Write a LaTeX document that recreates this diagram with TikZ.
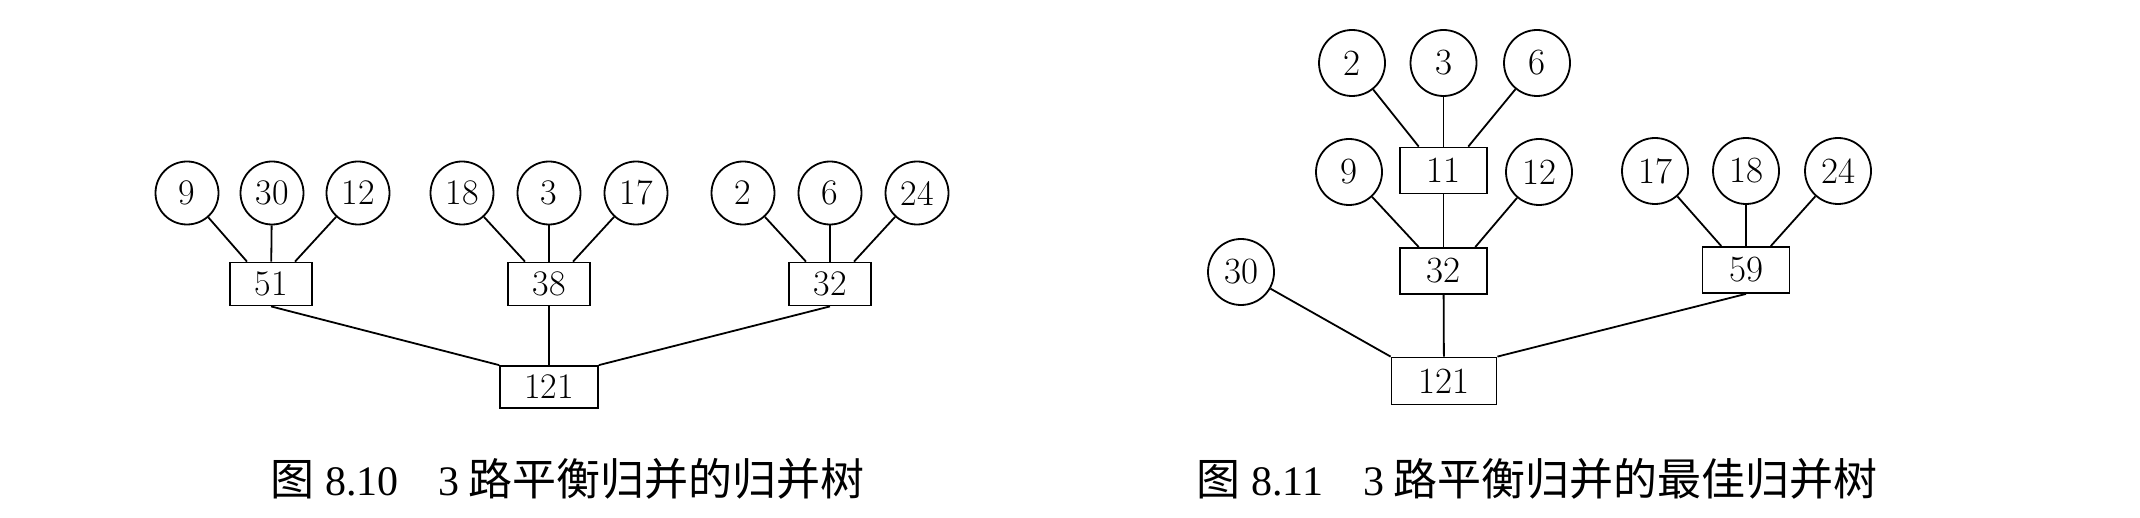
\documentclass[tikz,border=0pt]{standalone}
\usepackage{fontspec}
\newfontfamily\cjk{Noto Sans CJK SC}
\newfontfamily\capserif{Liberation Serif}
\newcommand\capnum[1]{{\capserif\fontsize{42}{42}\selectfont #1}}
\begin{document}
\begin{tikzpicture}[x=1pt,y=-1pt,
  leaf/.style={draw, circle, line width=1.8pt, inner sep=0pt, minimum size=63pt, font=\fontsize{36}{36}\selectfont},
  leafb/.style={leaf, minimum size=66pt, font=\fontsize{37}{37}\selectfont},
  sumbox/.style={draw, rectangle, line width=1.8pt, inner sep=0pt, minimum width=82pt, minimum height=43pt, font=\fontsize{36}{36}\selectfont},
  sumboxb/.style={sumbox, minimum width=87pt, minimum height=46pt, font=\fontsize{37}{37}\selectfont},
  edge/.style={line width=1.8pt},
  caption/.style={anchor=base west, inner sep=0pt, font=\cjk\fontsize{44}{44}\selectfont}]
\useasboundingbox (0,0) rectangle (2140,518);

% ---------- Figure 8.10 ----------
\node[leaf] (a9)  at (187,193) {9};
\node[leaf] (a30) at (272,193) {30};
\node[leaf] (a12) at (358,193) {12};
\node[leaf] (a18) at (462,193) {18};
\node[leaf] (a3)  at (549,193) {3};
\node[leaf] (a17) at (636,193) {17};
\node[leaf] (a2)  at (743,193) {2};
\node[leaf] (a6)  at (830,193) {6};
\node[leaf] (a24) at (917,193) {24};
\node[sumbox] (a51) at (271,284) {51};
\node[sumbox] (a38) at (549,284) {38};
\node[sumbox] (a32) at (830,284) {32};
\node[sumbox, minimum width=98pt, minimum height=42pt] (a121) at (549,387) {121};

\draw[edge] (a9) -- (a51.137);
\draw[edge] (a30) -- (a51);
\draw[edge] (a12) -- (a51.43);
\draw[edge] (a18) -- (a38.137);
\draw[edge] (a3) -- (a38);
\draw[edge] (a17) -- (a38.43);
\draw[edge] (a2) -- (a32.137);
\draw[edge] (a6) -- (a32);
\draw[edge] (a24) -- (a32.43);
\draw[edge] (a51.south) -- (a121.north west);
\draw[edge] (a38) -- (a121);
\draw[edge] (a32.south) -- (a121.north east);

% ---------- Figure 8.11 ----------
\node[leafb] (b2)  at (1352,63) {2};
\node[leafb] (b3)  at (1443.5,63) {3};
\node[leafb] (b6)  at (1537,63) {6};
\node[sumboxb] (b11) at (1443.5,170.5) {11};
\node[leafb] (b9)  at (1349,172) {9};
\node[leafb] (b12) at (1539,172) {12};
\node[sumboxb] (b32) at (1443.5,271) {32};
\node[leafb] (b30) at (1241,272) {30};
\node[leafb] (b17) at (1655,171) {17};
\node[leafb] (b18) at (1746,171) {18};
\node[leafb] (b24) at (1838,171) {24};
\node[sumboxb] (b59) at (1746,270) {59};
\node[sumboxb, minimum width=105pt, minimum height=47pt] (b121) at (1444,381) {121};

\draw[edge] (b2) -- (b11.136);
\draw[edge] (b3) -- (b11);
\draw[edge] (b6) -- (b11.44);
\draw[edge] (b9) -- (b32.136);
\draw[edge] (b11) -- (b32);
\draw[edge] (b12) -- (b32.37);
\draw[edge] (b32) -- (b121);
\draw[edge] (b30) -- (b121.north west);
\draw[edge] (b121.north east) -- (b59.south);
\draw[edge] (b17) -- (b59.136);
\draw[edge] (b18) -- (b59);
\draw[edge] (b24) -- (b59.44);

% ---------- Captions ----------
\node[caption] (cap1) at (270,495) {图\hspace{11pt}\capnum{8.10}\hspace{40pt}\capnum{3}\hspace{9pt}路平衡归并的归并树};
\node[caption] (cap2) at (1196,495) {图\hspace{11pt}\capnum{8.11}\hspace{40pt}\capnum{3}\hspace{9pt}路平衡归并的最佳归并树};
\end{tikzpicture}
\end{document}
